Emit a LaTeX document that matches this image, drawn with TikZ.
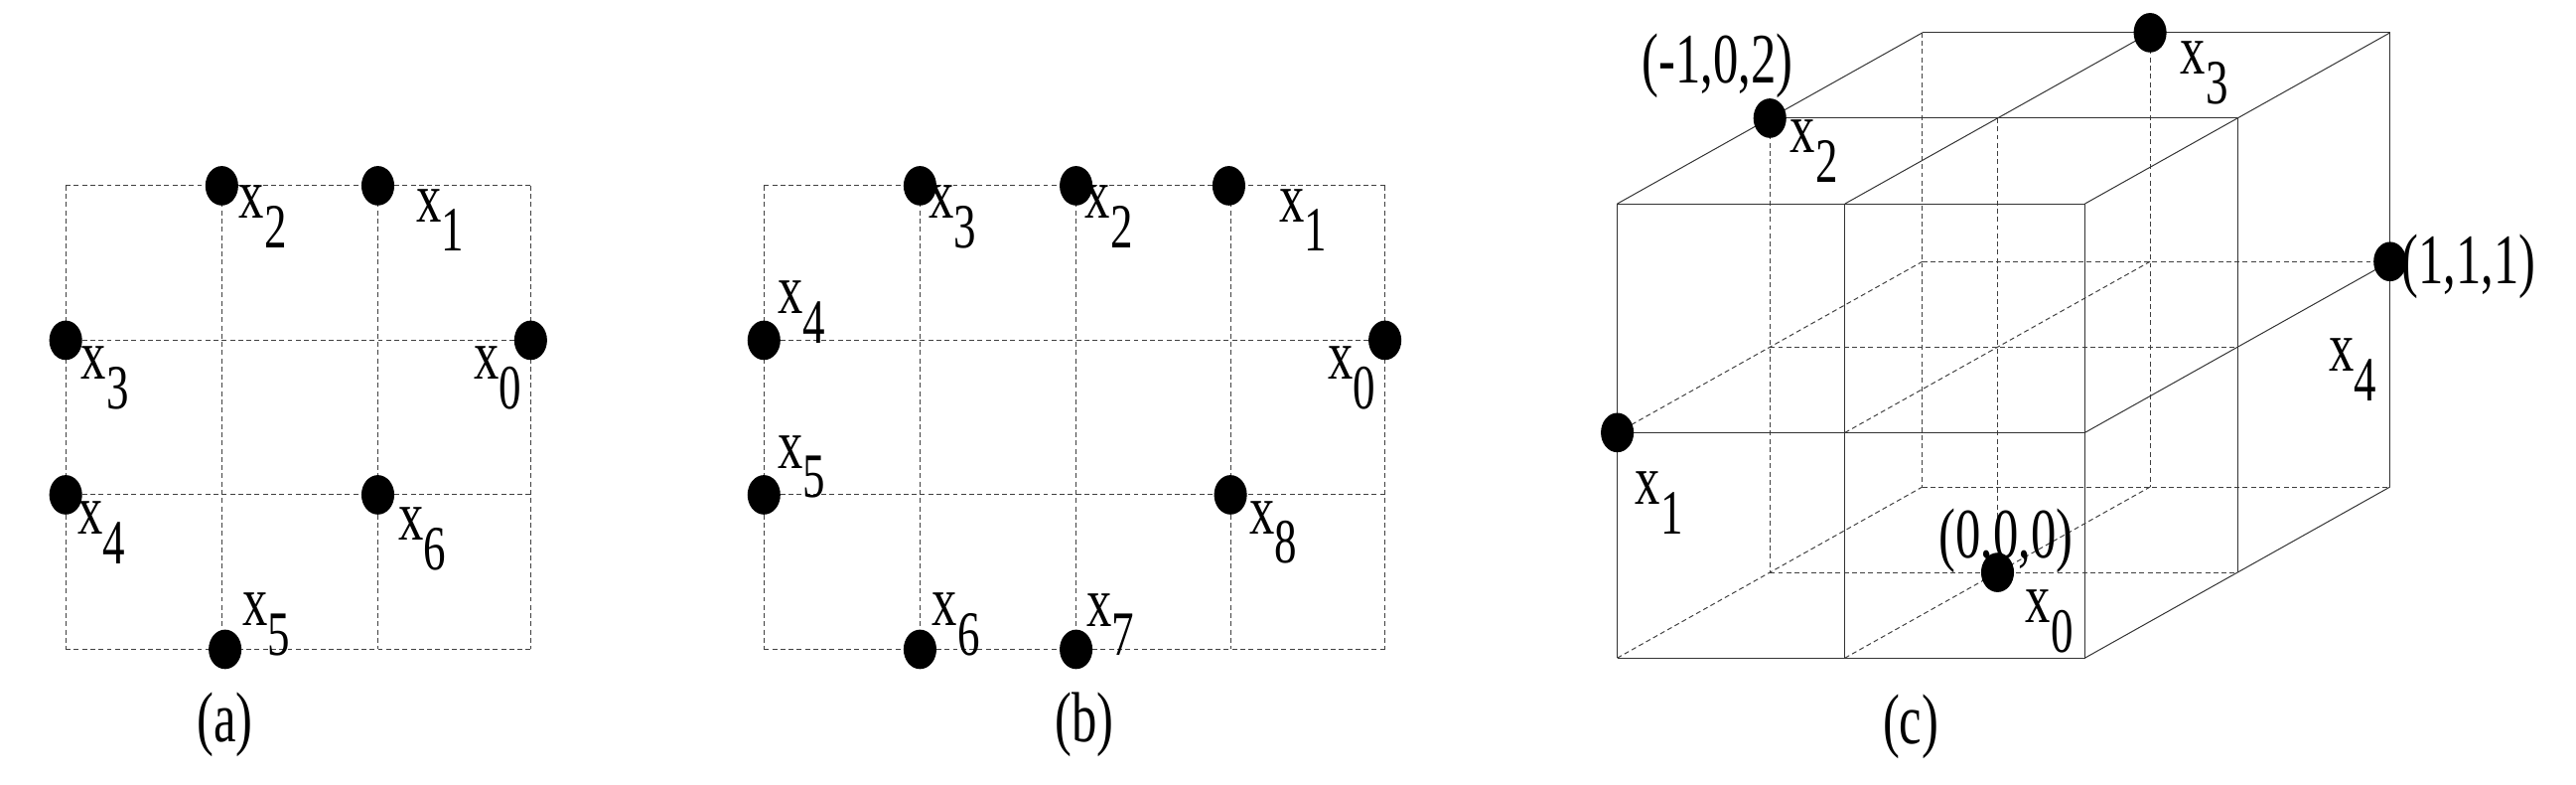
\documentclass[tikz,border=0pt]{standalone}
\usetikzlibrary{shapes.geometric}
\usepackage{fontspec}
\setmainfont{Liberation Serif}
\newcommand{\tx}[1]{\scalebox{0.85}[1.2]{#1}}
\newcommand{\xs}[1]{\tx{x\raisebox{-15pt}{\fontsize{32}{32}\selectfont #1}}}
\begin{document}
\begin{tikzpicture}[x=1pt,y=-1pt,
  dot/.style={ellipse,fill=black,minimum width=20pt,minimum height=24pt,inner sep=0pt},
  lab/.style={font=\fontsize{36}{40}\selectfont,inner sep=0pt},
  grd/.style={dashed,dash pattern=on 3pt off 2pt,line width=0.6pt,black!75},
  sld/.style={line width=0.6pt,black!80}]
\useasboundingbox (0,0) rectangle (1568,477);
% (a)
\foreach \y in {113,207,301,395} \draw[grd] (40,\y) -- (323,\y);
\foreach \x in {40,135,230,323} \draw[grd] (\x,113) -- (\x,395);
\node[dot] (a2) at (135,113) {}; \node[dot] (a1) at (230,113) {};
\node[dot] (a3) at (40,207) {};  \node[dot] (a0) at (323,207) {};
\node[dot] (a4) at (40,301) {};  \node[dot] (a6) at (230,301) {};
\node[dot] (a5) at (137,395) {};
\node[lab] (la2) at (160,132) {\xs{2}};
\node[lab] (la1) at (268,134) {\xs{1}};
\node[lab] (la3) at (64,230) {\xs{3}};
\node[lab] (la0) at (303,230) {\xs{0}};
\node[lab] (la4) at (62,324) {\xs{4}};
\node[lab] (la6) at (257,328) {\xs{6}};
\node[lab] (la5) at (162,380) {\xs{5}};
\node[lab] (ta) at (137,441) {\tx{(a)}};
% (b)
\foreach \y in {113,207,301,395} \draw[grd] (465,\y) -- (843,\y);
\foreach \x in {465,560,655,749,843} \draw[grd] (\x,113) -- (\x,395);
\node[dot] (b3) at (560,113) {}; \node[dot] (b2) at (655,113) {}; \node[dot] (b1) at (748,113) {};
\node[dot] (b4) at (465,207) {}; \node[dot] (b0) at (843,207) {};
\node[dot] (b5) at (465,301) {}; \node[dot] (b8) at (749,301) {};
\node[dot] (b6) at (560,395) {}; \node[dot] (b7) at (655,395) {};
\node[lab] (lb3) at (580,132) {\xs{3}};
\node[lab] (lb2) at (675,132) {\xs{2}};
\node[lab] (lb1) at (793,134) {\xs{1}};
\node[lab] (lb4) at (488,190) {\xs{4}};
\node[lab] (lb0) at (823,230) {\xs{0}};
\node[lab] (lb5) at (488,284) {\xs{5}};
\node[lab] (lb8) at (775,324) {\xs{8}};
\node[lab] (lb6) at (582,380) {\xs{6}};
\node[lab] (lb7) at (676,380) {\xs{7}};
\node[lab] (tb) at (660,441) {\tx{(b)}};
% (c)
\begin{scope}[shift={(955,0)},xscale=0.3926,yscale=0.306]
\def\FX{{75,428,800}}\def\FY{{405,860,1308}}
\foreach \i in {0,1,2} \foreach \j in {0,1,2} \foreach \k in {0,1,2} {
  \pgfmathsetmacro\px{\FX[\i]+236.5*\k}\pgfmathsetmacro\py{\FY[\j]-170*\k}
  \coordinate (c\i\j\k) at (\px,\py);}
% hidden (dashed)
\foreach \k in {1,2} {
  \foreach \i in {0,1} \draw[grd] (c\i0\k) -- (c\i2\k);
  \foreach \j in {1,2} \draw[grd] (c0\j\k) -- (c2\j\k);}
\foreach \i in {0,1} \foreach \j in {1,2} \draw[grd] (c\i\j0) -- (c\i\j2);
% visible (solid)
\foreach \i in {0,1,2} \draw[sld] (c\i00) -- (c\i20);
\foreach \j in {0,1,2} \draw[sld] (c0\j0) -- (c2\j0);
\foreach \k in {1,2} {\draw[sld] (c00\k) -- (c20\k); \draw[sld] (c20\k) -- (c22\k);}
\foreach \i in {0,1,2} \draw[sld] (c\i00) -- (c\i02);
\foreach \j in {1,2} \draw[sld] (c2\j0) -- (c2\j2);
\node[dot] (c2) at (c001) {};
\node[dot] (c3) at (c102) {};
\node[dot] (c1) at (c010) {};
\node[dot] (c4) at (c212) {};
\node[dot] (c0) at (c121) {};
\node[lab] (lc2) at (380,300) {\xs{2}};
\node[lab] (lc3) at (985,145) {\xs{3}};
\node[lab] (lc4) at (1215,735) {\xs{4}};
\node[lab] (lc1) at (140,1000) {\xs{1}};
\node[lab] (lc0) at (745,1235) {\xs{0}};
\node[lab] (p2) at (230,130) {\tx{(-1,0,2)}};
\node[lab] (p4) at (1395,530) {\tx{(1,1,1)}};
\node[lab] (p0) at (678,1075) {\tx{(0,0,0)}};
\node[lab] (tc) at (530,1445) {\tx{(c)}};
\end{scope}
\end{tikzpicture}
\end{document}
